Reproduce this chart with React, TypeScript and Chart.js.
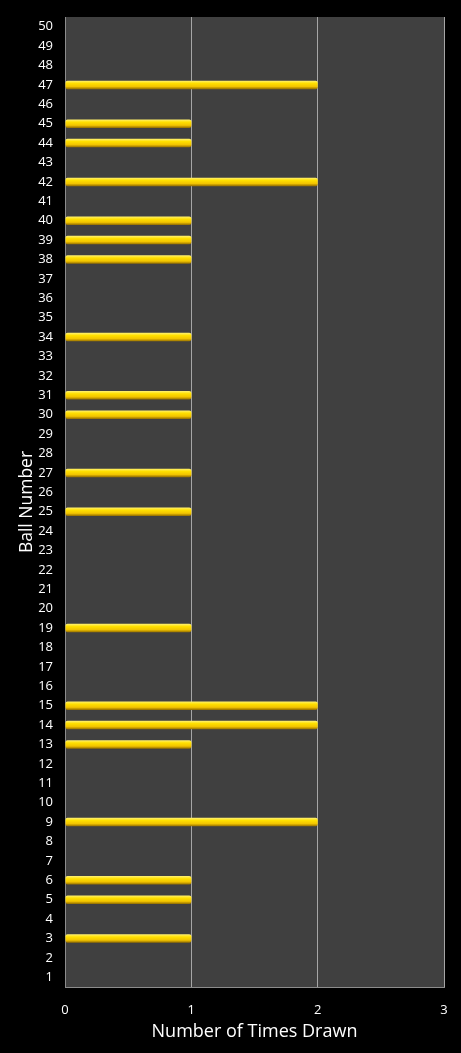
import { useEffect, useRef } from "react"
import { Chart, registerables } from "chart.js"

Chart.register(...registerables)

// ball numbers 1..50 and how many times each one was drawn
const ballNumbers: string[] = Array.from({ length: 50 }, (_, i) => String(i + 1))
const drawnBalls: number[] = [3, 5, 6, 9, 13, 14, 15, 19, 25, 27, 30, 31, 34, 38, 39, 40, 42, 44, 45, 47]
const drawnCounts: number[] = [1, 1, 1, 2, 1, 2, 2, 1, 1, 1, 1, 1, 1, 1, 1, 1, 2, 1, 1, 2]
const xTicks: number[] = [0, 1, 2, 3]

const timesDrawn: (number | null)[] = ballNumbers.map((b) => {
    const idx = drawnBalls.indexOf(Number(b))
    return idx >= 0 ? drawnCounts[idx] : null
})

const FONT = "'Open Sans', sans-serif"

const plotBackground = {
    id: "plotBackground",
    beforeDraw(chart: Chart) {
        const { ctx, chartArea, width, height } = chart
        ctx.save()
        ctx.fillStyle = "#000000"
        ctx.fillRect(0, 0, width, height)
        ctx.fillStyle = "#404040"
        ctx.fillRect(chartArea.left, chartArea.top, chartArea.right - chartArea.left, chartArea.bottom - chartArea.top)
        ctx.restore()
    },
}

export default function App() {
    const canvasRef = useRef<HTMLCanvasElement>(null)
    const chartRef = useRef<Chart | null>(null)

    useEffect(() => {
        document.body.style.margin = "0"
        document.body.style.background = "#000"
        if (!canvasRef.current) return
        if (chartRef.current) chartRef.current.destroy()

        chartRef.current = new Chart(canvasRef.current, {
            type: "bar",
            data: {
                labels: ballNumbers,
                datasets: [
                    {
                        data: timesDrawn,
                        // cylinder-like yellow gradient for each bar
                        backgroundColor: (c: any) => {
                            const chart = c.chart
                            const y = chart.scales?.y
                            if (!y || c.dataIndex === undefined) return "#f5c400"
                            const py = y.getPixelForValue(c.dataIndex)
                            if (!Number.isFinite(py)) return "#f5c400"
                            const g = chart.ctx.createLinearGradient(0, py - 4, 0, py + 4)
                            g.addColorStop(0, "#fff06a")
                            g.addColorStop(0.3, "#ffe000")
                            g.addColorStop(0.7, "#f2c400")
                            g.addColorStop(1, "#9a7400")
                            return g
                        },
                        borderWidth: 0,
                        borderRadius: 2,
                        borderSkipped: false,
                        barPercentage: 0.44,
                        categoryPercentage: 1,
                    },
                ],
            },
            options: {
                indexAxis: "y",
                animation: false,
                responsive: false,
                maintainAspectRatio: false,
                layout: { padding: { left: 0, top: 17, right: 17, bottom: 0 } },
                plugins: {
                    legend: { display: false },
                    tooltip: { enabled: false },
                },
                scales: {
                    x: {
                        type: "linear",
                        min: xTicks[0],
                        max: xTicks[xTicks.length - 1],
                        afterBuildTicks: (scale: any) => {
                            scale.ticks = xTicks.map((v) => ({ value: v }))
                        },
                        afterFit: (scale: any) => {
                            scale.height = 66
                            scale.paddingLeft = 0
                            scale.paddingRight = 0
                        },
                        grid: { color: "#a6a6a6", lineWidth: 1, drawTicks: false },
                        border: { color: "#8c8c8c", width: 1 },
                        ticks: { color: "#ffffff", font: { family: FONT, size: 13 }, padding: 15 },
                        title: {
                            display: true,
                            text: "Number of Times Drawn",
                            color: "#ffffff",
                            font: { family: FONT, size: 18 },
                            padding: { top: 0, bottom: 10 },
                        },
                    },
                    y: {
                        type: "category",
                        reverse: true,
                        afterFit: (scale: any) => {
                            scale.width = 65
                            scale.paddingTop = 0
                            scale.paddingBottom = 0
                        },
                        grid: { display: false, drawTicks: false },
                        border: { color: "#8c8c8c", width: 1 },
                        ticks: { color: "#ffffff", font: { family: FONT, size: 13 }, padding: 12, autoSkip: false },
                        title: {
                            display: true,
                            text: "Ball Number",
                            color: "#ffffff",
                            font: { family: FONT, size: 17.5 },
                            padding: { top: 17, bottom: 17 },
                        },
                    },
                },
            },
            plugins: [plotBackground],
        } as any)

        return () => {
            if (chartRef.current) {
                chartRef.current.destroy()
                chartRef.current = null
            }
        }
    }, [])

    return (
        <div style={{ width: 461, height: 1053, background: "#000" }}>
            <canvas ref={canvasRef} width={461} height={1053} style={{ display: "block" }} />
        </div>
    )
}
